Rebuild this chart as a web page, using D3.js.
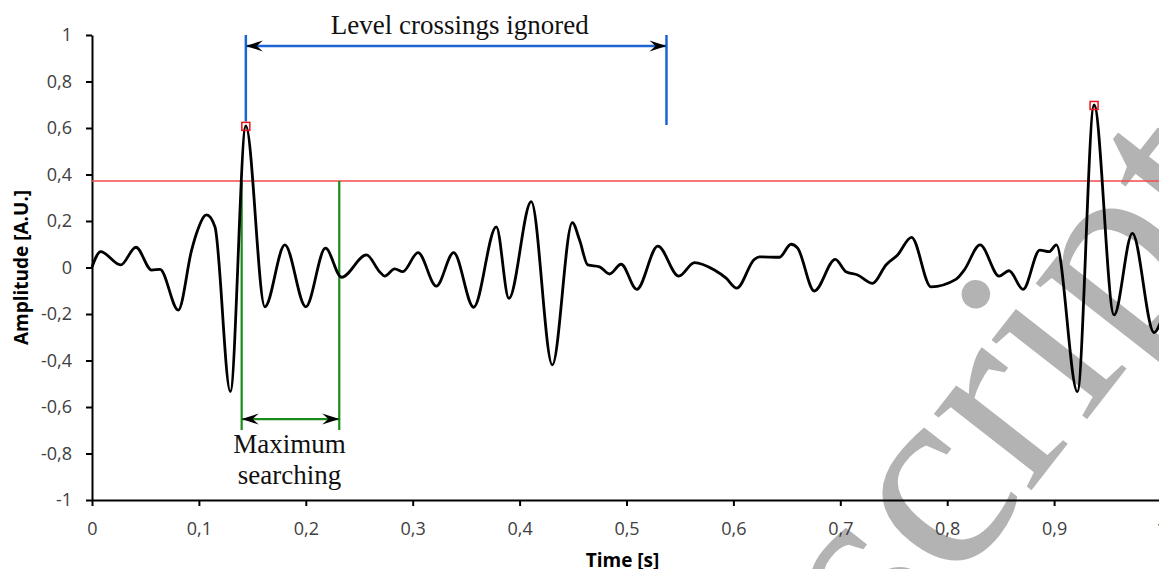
<!DOCTYPE html>
<html>
<head>
<meta charset="utf-8">
<script src="https://cdn.jsdelivr.net/npm/d3@7"></script>
<style>
  body { margin: 0; background: #fff; }
  svg { display: block; }
</style>
</head>
<body>
<svg id="chart" width="1159" height="569"></svg>
<script>
// signal
const timeS = [0, 0.0081, 0.0268, 0.0411, 0.0558, 0.0636, 0.0807, 0.0932, 0.0978, 0.1072,
  0.1150, 0.1294, 0.1439, 0.1617, 0.1804, 0.2000, 0.2184, 0.2334, 0.2567, 0.2692,
  0.2738, 0.2832, 0.2907, 0.3050, 0.3221, 0.3383, 0.3570, 0.3782, 0.3900, 0.4109,
  0.4306, 0.4493, 0.4561, 0.4638, 0.4748, 0.4841, 0.4950, 0.5096, 0.5293, 0.5489,
  0.5636, 0.5822, 0.5932, 0.6031, 0.6196, 0.6243, 0.6430, 0.6539, 0.6601, 0.6757,
  0.6953, 0.7053, 0.7162, 0.7302, 0.7427, 0.7536, 0.7666, 0.7848, 0.8081, 0.8159,
  0.8308, 0.8486, 0.8579, 0.8710, 0.8866, 0.8953, 0.9021, 0.9218, 0.9374, 0.9561,
  0.9732, 0.9935, 1.0];
const amplitude = [0.002, 0.068, 0.011, 0.087, -0.011, -0.008, -0.183, 0.075, 0.147, 0.226,
  0.175, -0.534, 0.609, -0.169, 0.097, -0.169, 0.083, -0.042, 0.054, -0.019,
  -0.037, -0.006, -0.018, 0.064, -0.080, 0.064, -0.171, 0.175, -0.133, 0.283,
  -0.419, 0.193, 0.118, 0.011, 0.003, -0.028, 0.014, -0.094, 0.092, -0.037,
  0.021, -0.011, -0.046, -0.089, 0.035, 0.046, 0.044, 0.100, 0.083, -0.101,
  0.035, -0.018, -0.032, -0.068, 0.011, 0.054, 0.130, -0.083, -0.051, -0.011,
  0.097, -0.037, -0.014, -0.094, 0.075, 0.068, 0.097, -0.534, 0.699, -0.204,
  0.147, -0.280, -0.230];

const xTicks = [0, 0.1, 0.2, 0.3, 0.4, 0.5, 0.6, 0.7, 0.8, 0.9, 1];
const yTicks = [-1, -0.8, -0.6, -0.4, -0.2, 0, 0.2, 0.4, 0.6, 0.8, 1];

const threshold = 0.372;
const peakTimes = [0.1439, 0.9374];
const peakValues = [0.607, 0.697];
const ignoredSpan = [0.1439, 0.5374];   // blue bracket
const searchSpan = [0.1400, 0.2313];    // green bracket

const svg = d3.select("#chart");

const x = d3.scaleLinear().domain([0, 1]).range([92, 1161]);
const y = d3.scaleLinear().domain([-1, 1]).range([500, 35]);

const fmt = v => (Math.round(v * 10) / 10).toString().replace(".", ",");

// watermark behind everything
svg.append("text")
  .attr("transform", "translate(1259,199) rotate(-52)")
  .attr("text-anchor", "end")
  .style("font-family", "'Liberation Serif', serif")
  .style("font-size", "270px")
  .attr("fill", "#b3b3b3")
  .text("Manuscript");

// axes
svg.append("g")
  .attr("transform", `translate(${x(0)},0)`)
  .call(d3.axisLeft(y).tickValues(yTicks).tickFormat(fmt).tickSize(6).tickSizeOuter(0).tickPadding(14));

svg.append("g")
  .attr("transform", `translate(0,${y(-1)})`)
  .call(d3.axisBottom(x).tickValues(xTicks).tickFormat(fmt).tickSize(6).tickSizeOuter(0).tickPadding(16));

svg.selectAll(".domain, .tick line").attr("stroke", "#000").attr("stroke-width", 2);
svg.selectAll(".tick text")
  .attr("fill", "#404040")
  .style("font-family", "'Open Sans', sans-serif")
  .style("font-size", "18px");

// axis titles
svg.append("text")
  .attr("transform", `translate(28,${(y(1) + y(-1)) / 2}) rotate(-90)`)
  .attr("text-anchor", "middle")
  .style("font-family", "'Open Sans', sans-serif")
  .style("font-size", "19px")
  .style("font-weight", "bold")
  .text("Amplitude [A.U.]");

svg.append("text")
  .attr("x", (x(0) + x(1)) / 2 - 4)
  .attr("y", 567)
  .attr("text-anchor", "middle")
  .style("font-family", "'Open Sans', sans-serif")
  .style("font-size", "19px")
  .style("font-weight", "bold")
  .text("Time [s]");

// threshold level
svg.append("line")
  .attr("x1", x(0)).attr("x2", x(1))
  .attr("y1", y(threshold)).attr("y2", y(threshold))
  .attr("stroke", "#f24a4a")
  .attr("stroke-width", 1.3);

// green "maximum searching" window
const green = "#1a8a1a";
searchSpan.forEach(t => {
  svg.append("line")
    .attr("x1", x(t)).attr("x2", x(t))
    .attr("y1", y(threshold)).attr("y2", y(-0.699))
    .attr("stroke", green).attr("stroke-width", 2.2);
});
svg.append("line")
  .attr("x1", x(searchSpan[0])).attr("x2", x(searchSpan[1]))
  .attr("y1", y(-0.652)).attr("y2", y(-0.652))
  .attr("stroke", green).attr("stroke-width", 2.2);

// blue "level crossings ignored" window
const blue = "#1c64d0";
svg.append("line")
  .attr("x1", x(ignoredSpan[0])).attr("x2", x(ignoredSpan[0]))
  .attr("y1", y(1)).attr("y2", y(0.628))
  .attr("stroke", blue).attr("stroke-width", 2.5);
svg.append("line")
  .attr("x1", x(ignoredSpan[1])).attr("x2", x(ignoredSpan[1]))
  .attr("y1", y(1)).attr("y2", y(0.613))
  .attr("stroke", blue).attr("stroke-width", 2.5);
svg.append("line")
  .attr("x1", x(ignoredSpan[0])).attr("x2", x(ignoredSpan[1]))
  .attr("y1", y(0.953)).attr("y2", y(0.953))
  .attr("stroke", blue).attr("stroke-width", 2.5);

// black arrowheads; dir = -1 points left, 1 points right
function arrow(px, py, dir) {
  const L = 17, h = 5.5, n = 11;
  svg.append("path")
    .attr("d", `M${px},${py} L${px - dir * L},${py - h} L${px - dir * n},${py} L${px - dir * L},${py + h} Z`)
    .attr("fill", "#000");
}
arrow(x(ignoredSpan[0]), y(0.953), -1);
arrow(x(ignoredSpan[1]), y(0.953), 1);
arrow(x(searchSpan[0]), y(-0.652), -1);
arrow(x(searchSpan[1]), y(-0.652), 1);

// signal
const line = d3.line()
  .x((d, i) => x(timeS[i]))
  .y(d => y(d))
  .curve(d3.curveMonotoneX);

svg.append("path")
  .datum(amplitude)
  .attr("fill", "none")
  .attr("stroke", "#000")
  .attr("stroke-width", 2.8)
  .attr("stroke-linejoin", "round")
  .attr("d", line);

// detected maxima
peakTimes.forEach((t, i) => {
  svg.append("rect")
    .attr("x", x(t) - 4).attr("y", y(peakValues[i]) - 4)
    .attr("width", 8).attr("height", 8)
    .attr("fill", "none")
    .attr("stroke", "#e8141e")
    .attr("stroke-width", 1.5);
});

// annotation texts
const serif = "'Liberation Serif', 'Times New Roman', serif";
svg.append("text")
  .attr("x", x(0.344)).attr("y", 34)
  .attr("text-anchor", "middle")
  .style("font-family", serif)
  .style("font-size", "27px")
  .attr("fill", "#111")
  .text("Level crossings ignored");

svg.append("text")
  .attr("x", x((searchSpan[0] + searchSpan[1]) / 2) - 1).attr("y", 453)
  .attr("text-anchor", "middle")
  .style("font-family", serif)
  .style("font-size", "27px")
  .attr("fill", "#111")
  .text("Maximum");

svg.append("text")
  .attr("x", x((searchSpan[0] + searchSpan[1]) / 2) - 1).attr("y", 484)
  .attr("text-anchor", "middle")
  .style("font-family", serif)
  .style("font-size", "27px")
  .attr("fill", "#111")
  .text("searching");
</script>
</body>
</html>
